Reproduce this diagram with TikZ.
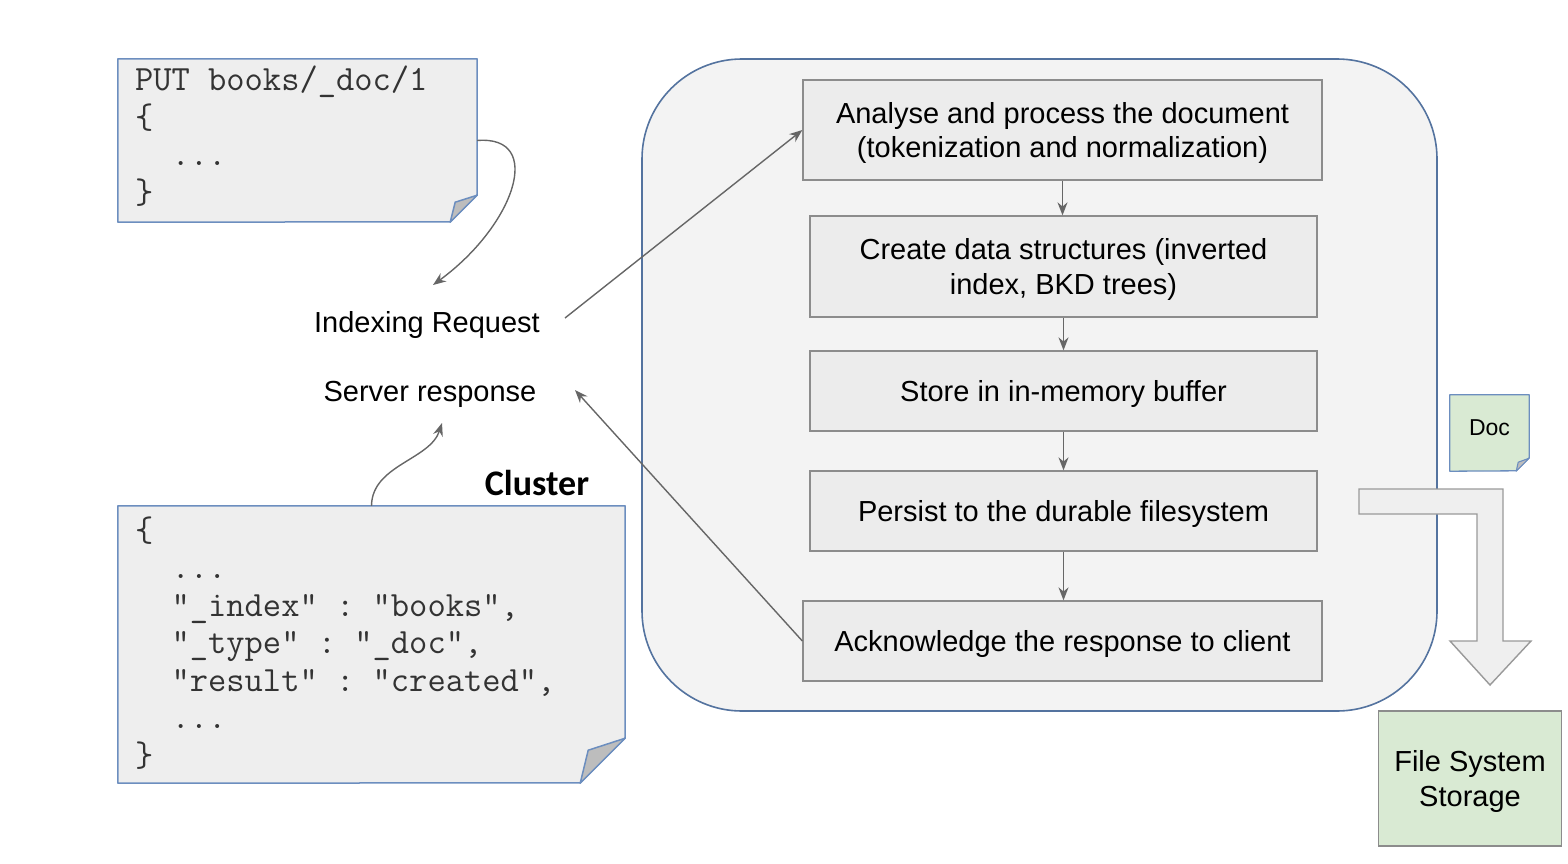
\documentclass[tikz,border=0pt]{standalone}
\usepackage{fontspec}
\setmainfont{Liberation Sans}
\newfontfamily\clusterfont{Carlito}
\usetikzlibrary{arrows.meta,calc}
\newcommand\csp{\hphantom{0}}
\definecolor{codefill}{HTML}{EEEEEE}
\definecolor{codeborder}{HTML}{6C8EBF}
\definecolor{foldfill}{HTML}{BDBDBD}
\definecolor{bigfill}{HTML}{F3F3F3}
\definecolor{bigborder}{HTML}{54739F}
\definecolor{stepfill}{HTML}{ECECEC}
\definecolor{stepborder}{HTML}{8C8C8C}
\definecolor{greenfill}{HTML}{D9EAD3}
\definecolor{arrowgray}{HTML}{666666}
\definecolor{bentfill}{HTML}{EFEFEF}
\definecolor{bentborder}{HTML}{999999}
\definecolor{codetext}{HTML}{333333}
\begin{document}
\begin{tikzpicture}[x=1pt,y=-1pt,
  bigbox/.style={draw=bigborder,fill=bigfill,line width=1.6pt,rounded corners=100pt},
  stepbox/.style={draw=stepborder,fill=stepfill,line width=1.3pt,align=center,inner sep=0pt,
    text depth=0pt,font=\fontsize{29}{34.5}\selectfont},
  codebox/.style={draw=none,inner xsep=17pt,inner ysep=0pt,align=left,text=codetext,
    font=\ttfamily\fontsize{35.5}{37.5}\selectfont},
  codeline/.style={draw=codeborder,fill=codefill,line width=1.5pt,line join=round},
  foldtri/.style={draw=codeborder,fill=foldfill,line width=1.5pt,line join=round},
  txtlabel/.style={font=\fontsize{29}{34.5}\selectfont,inner sep=2pt,text depth=0pt},
  conn/.style={draw=arrowgray,line width=1.4pt,-{Stealth[length=13pt,width=10pt]}},
  greenbox/.style={draw=stepborder,fill=greenfill,line width=1.3pt,align=center,inner sep=0pt,
    text depth=0pt,font=\fontsize{29}{34.5}\selectfont},
  bent/.style={draw=bentborder,fill=bentfill,line width=1.4pt,line join=miter}
]
\useasboundingbox (0,0) rectangle (1568,864);

% big container
\path[bigbox] (642,59) rectangle (1437,711);

% steps
\node[stepbox,minimum width=519pt,minimum height=100pt] (analyse) at (1062.5,130)
  {Analyse and process the document\\(tokenization and normalization)};
\node[stepbox,minimum width=507pt,minimum height=101pt] (create) at (1063.5,266.5)
  {Create data structures (inverted\\index, BKD trees)};
\node[stepbox,minimum width=507pt,minimum height=80pt] (store) at (1063.5,391)
  {Store in in-memory buffer};
\node[stepbox,minimum width=507pt,minimum height=80pt] (persist) at (1063.5,511)
  {Persist to the durable filesystem};
\node[stepbox,minimum width=519pt,minimum height=80pt] (ack) at (1062.5,641)
  {Acknowledge the response to client};

\draw[conn] (analyse.south) -- (analyse.south |- create.north);
\draw[conn] (create.south) -- (create.south |- store.north);
\draw[conn] (store.south) -- (store.south |- persist.north);
\draw[conn] (persist.south) -- (persist.south |- ack.north);

% request code box
\node[draw=none,minimum width=359pt,minimum height=163pt,inner sep=0pt] (put) at (297.5,140.5) {};
\path[codeline] (put.north west) -- (put.north east) -- ++(0,136) -- ++(-27,27)
  -- (put.south west) -- cycle;
\path[foldtri] ($(put.south east)+(0,-27)$) -- ($(put.south east)+(-27,0)$)
  -- ($(put.south east)+(-22,-20)$) -- cycle;
\node[codebox,text width=325pt,minimum height=163pt] (puttext) at (297.5,136)
  {PUT\csp{}books/\_doc/1\\\{\\\csp\csp...\\\}};

% response code box
\node[draw=none,minimum width=507pt,minimum height=277pt,inner sep=0pt] (resp) at (371.5,644.5) {};
\path[codeline] (resp.north west) -- (resp.north east) -- ++(0,232) -- ++(-45,45)
  -- (resp.south west) -- cycle;
\path[foldtri] ($(resp.south east)+(0,-45)$) -- ($(resp.south east)+(-45,0)$)
  -- ($(resp.south east)+(-37,-33)$) -- cycle;
\node[codebox,text width=473pt,minimum height=277pt] (resptext) at (371.5,643)
  {\{\\\csp\csp...\\%
   \csp\csp"\_index"\csp:\csp"books",\\%
   \csp\csp"\_type"\csp:\csp"\_doc",\\%
   \csp\csp"result"\csp:\csp"created",\\%
   \csp\csp...\\\}};

% labels
\node[txtlabel] (req) at (427,322) {Indexing Request};
\node[txtlabel] (srv) at (430,391) {Server response};
\node[font=\clusterfont\bfseries\fontsize{36}{40}\selectfont,inner sep=0pt] (cluster) at (537,483) {Cluster};

\coordinate (reqin) at (433,285);
\coordinate (reqout) at (565,318);
\coordinate (srvin) at (575,390);
\coordinate (srvin2) at (442,423);

\draw[conn] (put.east) .. controls (545,135) and (515,225) .. (reqin);
\draw[conn] (reqout) -- (analyse.west);
\draw[conn] (ack.west) -- (srvin);
\draw[conn] (resp.north) .. controls (372,465) and (430,460) .. (srvin2);

% bent arrow to storage
\path[bent] (1359,489) -- (1503,489) -- (1503,641) -- (1531,641) -- (1490,685)
  -- (1450,641) -- (1477,641) -- (1477,514) -- (1359,514) -- cycle;

% doc note
\node[draw=none,minimum width=79pt,minimum height=76pt,inner sep=0pt] (doc) at (1489.5,433) {};
\path[draw=codeborder,fill=greenfill,line width=1.3pt,line join=round]
  (doc.north west) -- (doc.north east) -- ++(0,63) -- ++(-13,13) -- (doc.south west) -- cycle;
\path[draw=codeborder,fill=foldfill,line width=1.1pt,line join=round]
  ($(doc.south east)+(0,-13)$) -- ($(doc.south east)+(-13,0)$) -- ($(doc.south east)+(-11,-9)$) -- cycle;
\node[font=\fontsize{23}{26}\selectfont,inner sep=0pt] (doctext) at (1489.5,428) {Doc};

% file system storage
\node[greenbox,minimum width=183pt,minimum height=135pt] (fss) at (1470,778.5)
  {File System\\Storage};
\end{tikzpicture}
\end{document}
